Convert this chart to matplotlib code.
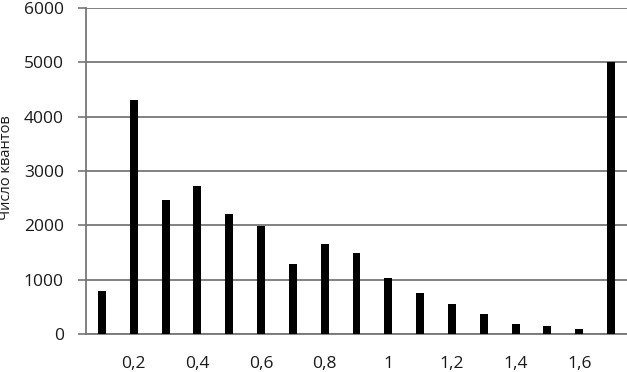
import matplotlib
matplotlib.use("Agg")
import matplotlib.pyplot as plt
import numpy as np

categories = ["0,1", "0,2", "0,3", "0,4", "0,5", "0,6", "0,7", "0,8", "0,9", "1",
              "1,1", "1,2", "1,3", "1,4", "1,5", "1,6", "1,7"]
values = [790, 4300, 2470, 2720, 2200, 1980, 1280, 1660, 1490, 1030,
          760, 560, 370, 190, 140, 100, 5000]
shown_labels = ["", "0,2", "", "0,4", "", "0,6", "", "0,8", "", "1",
                "", "1,2", "", "1,4", "", "1,6", ""]
y_ticks = [0, 1000, 2000, 3000, 4000, 5000, 6000]

plt.rcParams['font.family'] = ['Open Sans', 'DejaVu Sans']

fig = plt.figure(figsize=(6.27, 3.72), dpi=100)
ax = fig.add_axes([86/627, 1-334/372, 1-86/627, (334-8)/372])

x = np.arange(len(categories))
ax.bar(x, values, width=0.25, color='black', zorder=3)

ax.set_xlim(-0.5, len(categories) - 0.5)
ax.set_ylim(0, 6000)
ax.set_yticks(y_ticks)
ax.set_yticklabels([str(v) for v in y_ticks], fontsize=12.5, color='#1a1a1a')
ax.set_xticks(x)
ax.set_xticklabels(shown_labels, fontsize=12.5, color='#1a1a1a')
ax.tick_params(axis='x', length=0, pad=16)
ax.tick_params(axis='y', length=6, width=1.2, color='#777777', pad=10)

ax.yaxis.grid(True, color='#777777', linewidth=1.3, zorder=0)
for s in ['top', 'right']:
    ax.spines[s].set_visible(False)
for s in ['left', 'bottom']:
    ax.spines[s].set_color('#777777')
    ax.spines[s].set_linewidth(1.3)

fig.text(7/627, 1-168/372, "Число квантов", rotation=90, fontsize=10.5,
         ha='center', va='center', color='#1a1a1a')

fig.savefig("out.png", dpi=100)
